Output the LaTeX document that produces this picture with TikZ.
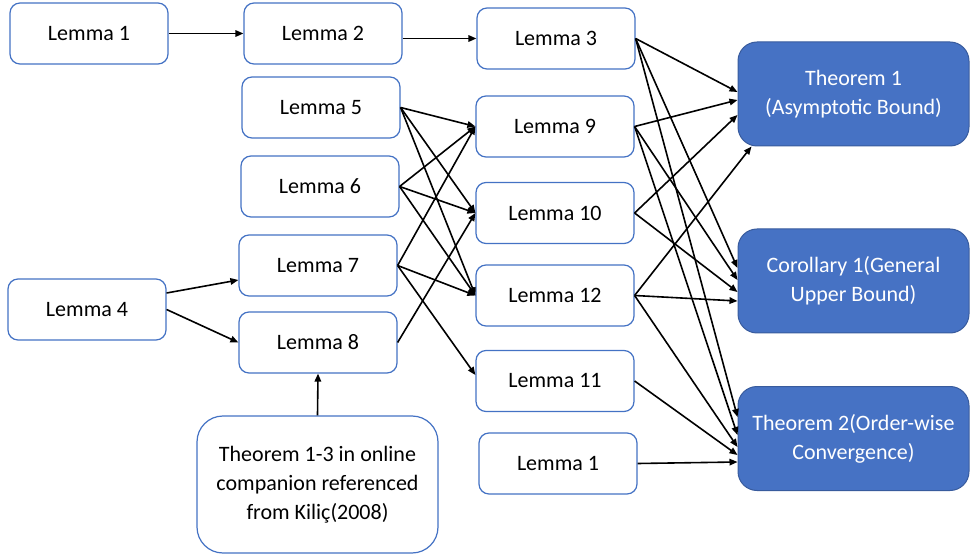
\documentclass[tikz,border=0pt]{standalone}
\usepackage{fontspec}
\setmainfont{Carlito}
\usetikzlibrary{arrows.meta}
\definecolor{bordblue}{RGB}{68,114,196}
\definecolor{fillblue}{RGB}{70,114,196}
\begin{document}
\begin{tikzpicture}[x=1pt,y=-1pt,
  lem/.style={draw=bordblue, line width=1.2pt, rounded corners=10pt, fill=white,
    minimum width=158pt, minimum height=61pt, inner sep=0pt,
    font=\fontsize{22}{26}\selectfont, text=black},
  thm/.style={draw=fillblue!80!black, fill=fillblue, line width=1pt, rounded corners=19pt,
    minimum width=231pt, minimum height=104pt, inner sep=0pt, align=center, text=white,
    font=\fontsize{22}{29}\selectfont},
  src/.style={draw=bordblue, line width=1.2pt, rounded corners=26pt, fill=white,
    minimum width=241pt, minimum height=137pt, inner sep=0pt, align=center,
    font=\fontsize{22}{29}\selectfont},
  arr/.style={-{Triangle[length=8pt,width=6.5pt]}, line width=1.6pt, black}]
\useasboundingbox (0,0) rectangle (970,556);

\node[lem] (L1) at (89,33.5) {Lemma 1};
\node[lem] (L2) at (323,33.5) {Lemma 2};
\node[lem] (L3) at (556,38.5) {Lemma 3};
\node[lem] (L5) at (321,107.5) {Lemma 5};
\node[lem] (L6) at (320,186.5) {Lemma 6};
\node[lem] (L7) at (318,265.5) {Lemma 7};
\node[lem] (L8) at (318,342.5) {Lemma 8};
\node[lem] (L4) at (87,309.5) {Lemma 4};
\node[lem] (L9) at (555,126.5) {Lemma 9};
\node[lem] (L10) at (555,213) {Lemma 10};
\node[lem] (L12) at (555,295.5) {Lemma 12};
\node[lem] (L11) at (555,381) {Lemma 11};
\node[lem] (L1b) at (558,463.5) {Lemma 1};
\node[thm] (Th1) at (853.5,94) {Theorem 1\\(Asymptotic Bound)};
\node[thm] (Cor) at (853.5,281) {Corollary 1(General\\Upper Bound)};
\node[thm] (Th2) at (853.5,438.5) {Theorem 2(Order-wise\\Convergence)};
\node[src] (Src) at (317.5,484.5) {Theorem 1-3 in online\\companion referenced\\from Kiliç(2008)};

% left part
\draw[arr] (L1.east) -- (L2.west);
\draw[arr] (L2.east |- L3.west) -- (L3.west);
\draw[arr] ([yshift=16.5pt]L4.east) -- ([yshift=-14.5pt]L7.west);
\draw[arr] (L4.east) -- (L8.west);
\draw[arr] (Src.north) -- (L8.south);

% middle part
\foreach \s in {L5,L6} {
  \draw[arr] (\s.east) -- (L9.west);
  \draw[arr] (\s.east) -- (L10.west);
  \draw[arr] (\s.east) -- (L12.west);
}
\draw[arr] (L7.east) -- (L9.west);
\draw[arr] (L7.east) -- (L12.west);
\draw[arr] (L7.east) -- ([yshift=6pt]L11.west);
\draw[arr] (L8.east) -- (L10.west);

% right part
\draw[arr] (L3.east) -- ([yshift=2pt]Th1.west);
\draw[arr] (L9.east) -- ([yshift=-6pt]Th1.west);
\draw[arr] (L10.east) -- ([yshift=-21pt]Th1.west);
\draw[arr] (L12.east) -- ([xshift=14pt]Th1.south west);

\draw[arr] (L3.east) -- ([yshift=13pt]Cor.west);
\draw[arr] (L9.east) -- ([yshift=1pt]Cor.west);
\draw[arr] (L10.east) -- ([yshift=-11pt]Cor.west);
\draw[arr] (L12.east) -- ([yshift=-20pt]Cor.west);

\draw[arr] (L3.east) -- ([yshift=21.5pt]Th2.west);
\draw[arr] (L9.east) -- ([yshift=3.5pt]Th2.west);
\draw[arr] (L12.east) -- ([yshift=-8.5pt]Th2.west);
\draw[arr] (L11.east) -- ([yshift=-16.5pt]Th2.west);
\draw[arr] (L1b.east) -- ([yshift=-23.5pt]Th2.west);
\end{tikzpicture}
\end{document}
